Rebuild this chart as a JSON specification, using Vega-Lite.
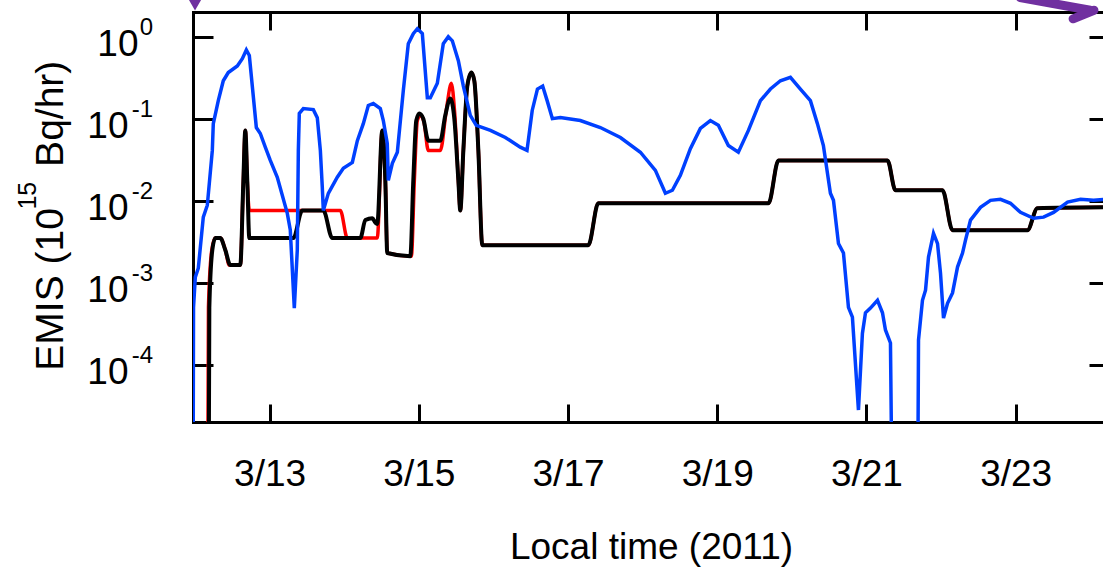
{
  "$schema": "https://vega.github.io/schema/vega-lite/v6.json",
  "width": 910,
  "height": 410,
  "autosize": "none",
  "padding": {"left": 193, "top": 12, "right": 0, "bottom": 148},
  "background": "white",
  "config": {
    "view": {"stroke": null},
    "font": "Liberation Sans",
    "axis": {
      "grid": false,
      "domainColor": "black",
      "domainWidth": 3,
      "domainCap": "square",
      "tickColor": "black",
      "tickWidth": 3,
      "labelColor": "black",
      "labelFont": "Liberation Sans",
      "titleFont": "Liberation Sans",
      "titleColor": "black",
      "titleFontWeight": "normal",
      "labelOverlap": false,
      "labelFlush": false
    }
  },
  "datasets": {
    "emis": [
      {"series": "blue", "day": 11.973, "emis": 1e-6},
      {"series": "blue", "day": 11.98, "emis": 5.0e-4},
      {"series": "blue", "day": 12.004, "emis": 1.17e-3},
      {"series": "blue", "day": 12.044, "emis": 1.5e-3},
      {"series": "blue", "day": 12.111, "emis": 6.3e-3},
      {"series": "blue", "day": 12.165, "emis": 8.8e-3},
      {"series": "blue", "day": 12.232, "emis": 0.041},
      {"series": "blue", "day": 12.245, "emis": 0.087},
      {"series": "blue", "day": 12.312, "emis": 0.166},
      {"series": "blue", "day": 12.379, "emis": 0.29},
      {"series": "blue", "day": 12.446, "emis": 0.365},
      {"series": "blue", "day": 12.567, "emis": 0.44},
      {"series": "blue", "day": 12.634, "emis": 0.54},
      {"series": "blue", "day": 12.688, "emis": 0.69},
      {"series": "blue", "day": 12.728, "emis": 0.59},
      {"series": "blue", "day": 12.822, "emis": 0.078},
      {"series": "blue", "day": 12.875, "emis": 0.066},
      {"series": "blue", "day": 12.942, "emis": 0.045},
      {"series": "blue", "day": 13.009, "emis": 0.031},
      {"series": "blue", "day": 13.103, "emis": 0.0193},
      {"series": "blue", "day": 13.237, "emis": 0.007},
      {"series": "blue", "day": 13.277, "emis": 0.0044},
      {"series": "blue", "day": 13.331, "emis": 4.9e-4},
      {"series": "blue", "day": 13.371, "emis": 0.0025},
      {"series": "blue", "day": 13.385, "emis": 0.041},
      {"series": "blue", "day": 13.398, "emis": 0.116},
      {"series": "blue", "day": 13.452, "emis": 0.133},
      {"series": "blue", "day": 13.586, "emis": 0.129},
      {"series": "blue", "day": 13.639, "emis": 0.103},
      {"series": "blue", "day": 13.68, "emis": 0.041},
      {"series": "blue", "day": 13.706, "emis": 0.0146},
      {"series": "blue", "day": 13.72, "emis": 0.0076},
      {"series": "blue", "day": 13.787, "emis": 0.0123},
      {"series": "blue", "day": 13.907, "emis": 0.0193},
      {"series": "blue", "day": 13.988, "emis": 0.0248},
      {"series": "blue", "day": 14.109, "emis": 0.0293},
      {"series": "blue", "day": 14.176, "emis": 0.054},
      {"series": "blue", "day": 14.256, "emis": 0.087},
      {"series": "blue", "day": 14.323, "emis": 0.145},
      {"series": "blue", "day": 14.39, "emis": 0.153},
      {"series": "blue", "day": 14.484, "emis": 0.133},
      {"series": "blue", "day": 14.524, "emis": 0.095},
      {"series": "blue", "day": 14.577, "emis": 0.05},
      {"series": "blue", "day": 14.591, "emis": 0.0177},
      {"series": "blue", "day": 14.645, "emis": 0.0285},
      {"series": "blue", "day": 14.712, "emis": 0.039},
      {"series": "blue", "day": 14.792, "emis": 0.22},
      {"series": "blue", "day": 14.859, "emis": 0.82},
      {"series": "blue", "day": 14.926, "emis": 1.09},
      {"series": "blue", "day": 14.98, "emis": 1.25},
      {"series": "blue", "day": 15.047, "emis": 1.09},
      {"series": "blue", "day": 15.114, "emis": 0.18},
      {"series": "blue", "day": 15.154, "emis": 0.18},
      {"series": "blue", "day": 15.248, "emis": 0.27},
      {"series": "blue", "day": 15.328, "emis": 0.82},
      {"series": "blue", "day": 15.395, "emis": 1.0},
      {"series": "blue", "day": 15.449, "emis": 0.89},
      {"series": "blue", "day": 15.53, "emis": 0.51},
      {"series": "blue", "day": 15.597, "emis": 0.25},
      {"series": "blue", "day": 15.69, "emis": 0.11},
      {"series": "blue", "day": 15.77, "emis": 0.083},
      {"series": "blue", "day": 15.96, "emis": 0.072},
      {"series": "blue", "day": 16.16, "emis": 0.059},
      {"series": "blue", "day": 16.36, "emis": 0.045},
      {"series": "blue", "day": 16.45, "emis": 0.041},
      {"series": "blue", "day": 16.52, "emis": 0.126},
      {"series": "blue", "day": 16.59, "emis": 0.23},
      {"series": "blue", "day": 16.66, "emis": 0.25},
      {"series": "blue", "day": 16.72, "emis": 0.166},
      {"series": "blue", "day": 16.79, "emis": 0.1},
      {"series": "blue", "day": 16.897, "emis": 0.103},
      {"series": "blue", "day": 17.165, "emis": 0.095},
      {"series": "blue", "day": 17.433, "emis": 0.078},
      {"series": "blue", "day": 17.702, "emis": 0.059},
      {"series": "blue", "day": 17.97, "emis": 0.039},
      {"series": "blue", "day": 18.171, "emis": 0.0234},
      {"series": "blue", "day": 18.305, "emis": 0.0123},
      {"series": "blue", "day": 18.399, "emis": 0.0134},
      {"series": "blue", "day": 18.506, "emis": 0.0204},
      {"series": "blue", "day": 18.64, "emis": 0.043},
      {"series": "blue", "day": 18.774, "emis": 0.076},
      {"series": "blue", "day": 18.908, "emis": 0.095},
      {"series": "blue", "day": 19.015, "emis": 0.083},
      {"series": "blue", "day": 19.149, "emis": 0.047},
      {"series": "blue", "day": 19.283, "emis": 0.039},
      {"series": "blue", "day": 19.418, "emis": 0.072},
      {"series": "blue", "day": 19.579, "emis": 0.166},
      {"series": "blue", "day": 19.713, "emis": 0.23},
      {"series": "blue", "day": 19.847, "emis": 0.29},
      {"series": "blue", "day": 19.981, "emis": 0.32},
      {"series": "blue", "day": 20.115, "emis": 0.23},
      {"series": "blue", "day": 20.249, "emis": 0.166},
      {"series": "blue", "day": 20.343, "emis": 0.087},
      {"series": "blue", "day": 20.423, "emis": 0.047},
      {"series": "blue", "day": 20.517, "emis": 0.0123},
      {"series": "blue", "day": 20.558, "emis": 0.0101},
      {"series": "blue", "day": 20.625, "emis": 0.003},
      {"series": "blue", "day": 20.692, "emis": 0.0023},
      {"series": "blue", "day": 20.759, "emis": 5.0e-4},
      {"series": "blue", "day": 20.812, "emis": 3.8e-4},
      {"series": "blue", "day": 20.893, "emis": 2.8e-5},
      {"series": "blue", "day": 20.946, "emis": 2.4e-4},
      {"series": "blue", "day": 20.987, "emis": 4.3e-4},
      {"series": "blue", "day": 21.054, "emis": 4.9e-4},
      {"series": "blue", "day": 21.148, "emis": 6.1e-4},
      {"series": "blue", "day": 21.215, "emis": 4.3e-4},
      {"series": "blue", "day": 21.255, "emis": 2.65e-4},
      {"series": "blue", "day": 21.322, "emis": 1.84e-4},
      {"series": "blue", "day": 21.36, "emis": 1e-7},
      {"series": "blue", "day": 21.68, "emis": 1e-7},
      {"series": "blue", "day": 21.698, "emis": 2.0e-4},
      {"series": "blue", "day": 21.751, "emis": 6.1e-4},
      {"series": "blue", "day": 21.792, "emis": 8.1e-4},
      {"series": "blue", "day": 21.832, "emis": 2.05e-3},
      {"series": "blue", "day": 21.899, "emis": 4.0e-3},
      {"series": "blue", "day": 21.953, "emis": 3.0e-3},
      {"series": "blue", "day": 21.993, "emis": 1.3e-3},
      {"series": "blue", "day": 22.033, "emis": 3.7e-4},
      {"series": "blue", "day": 22.087, "emis": 5.6e-4},
      {"series": "blue", "day": 22.154, "emis": 7.5e-4},
      {"series": "blue", "day": 22.221, "emis": 1.55e-3},
      {"series": "blue", "day": 22.288, "emis": 2.3e-3},
      {"series": "blue", "day": 22.328, "emis": 3.3e-3},
      {"series": "blue", "day": 22.395, "emis": 5.8e-3},
      {"series": "blue", "day": 22.529, "emis": 8.3e-3},
      {"series": "blue", "day": 22.663, "emis": 0.0101},
      {"series": "blue", "day": 22.797, "emis": 0.0104},
      {"series": "blue", "day": 22.931, "emis": 9.3e-3},
      {"series": "blue", "day": 23.065, "emis": 7.2e-3},
      {"series": "blue", "day": 23.24, "emis": 6.1e-3},
      {"series": "blue", "day": 23.374, "emis": 6.3e-3},
      {"series": "blue", "day": 23.508, "emis": 7.2e-3},
      {"series": "blue", "day": 23.696, "emis": 9.6e-3},
      {"series": "blue", "day": 23.87, "emis": 0.0104},
      {"series": "blue", "day": 24.044, "emis": 0.0101},
      {"series": "blue", "day": 24.22, "emis": 0.0104},

      {"series": "black", "day": 12.178, "emis": 1e-7},
      {"series": "black", "day": 12.192, "emis": 5.0e-4},
      {"series": "black", "day": 12.232, "emis": 0.0025},
      {"series": "black", "day": 12.272, "emis": 0.0035},
      {"series": "black", "day": 12.339, "emis": 0.0035},
      {"series": "black", "day": 12.406, "emis": 0.0025},
      {"series": "black", "day": 12.473, "emis": 0.00164},
      {"series": "black", "day": 12.607, "emis": 0.00164},
      {"series": "black", "day": 12.647, "emis": 0.0163},
      {"series": "black", "day": 12.674, "emis": 0.072},
      {"series": "black", "day": 12.701, "emis": 0.017},
      {"series": "black", "day": 12.728, "emis": 0.0035},
      {"series": "black", "day": 13.318, "emis": 0.0035},
      {"series": "black", "day": 13.438, "emis": 0.0076},
      {"series": "black", "day": 13.72, "emis": 0.0076},
      {"series": "black", "day": 13.84, "emis": 0.0035},
      {"series": "black", "day": 14.216, "emis": 0.0035},
      {"series": "black", "day": 14.283, "emis": 0.0058},
      {"series": "black", "day": 14.377, "emis": 0.0061},
      {"series": "black", "day": 14.417, "emis": 0.0054},
      {"series": "black", "day": 14.443, "emis": 0.0052},
      {"series": "black", "day": 14.51, "emis": 0.072},
      {"series": "black", "day": 14.551, "emis": 0.0177},
      {"series": "black", "day": 14.577, "emis": 0.0023},
      {"series": "black", "day": 14.886, "emis": 0.0021},
      {"series": "black", "day": 14.926, "emis": 0.0177},
      {"series": "black", "day": 14.966, "emis": 0.095},
      {"series": "black", "day": 15.007, "emis": 0.116},
      {"series": "black", "day": 15.06, "emis": 0.1},
      {"series": "black", "day": 15.127, "emis": 0.054},
      {"series": "black", "day": 15.288, "emis": 0.054},
      {"series": "black", "day": 15.355, "emis": 0.11},
      {"series": "black", "day": 15.422, "emis": 0.176},
      {"series": "black", "day": 15.476, "emis": 0.1},
      {"series": "black", "day": 15.53, "emis": 0.0177},
      {"series": "black", "day": 15.556, "emis": 0.0076},
      {"series": "black", "day": 15.597, "emis": 0.041},
      {"series": "black", "day": 15.65, "emis": 0.25},
      {"series": "black", "day": 15.704, "emis": 0.365},
      {"series": "black", "day": 15.744, "emis": 0.29},
      {"series": "black", "day": 15.798, "emis": 0.041},
      {"series": "black", "day": 15.851, "emis": 0.00287},
      {"series": "black", "day": 17.272, "emis": 0.00287},
      {"series": "black", "day": 17.406, "emis": 0.0093},
      {"series": "black", "day": 19.687, "emis": 0.0093},
      {"series": "black", "day": 19.821, "emis": 0.031},
      {"series": "black", "day": 21.282, "emis": 0.031},
      {"series": "black", "day": 21.389, "emis": 0.0134},
      {"series": "black", "day": 22.019, "emis": 0.0134},
      {"series": "black", "day": 22.154, "emis": 0.00437},
      {"series": "black", "day": 23.158, "emis": 0.00437},
      {"series": "black", "day": 23.292, "emis": 0.0081},
      {"series": "black", "day": 24.22, "emis": 0.0083},

      {"series": "red", "day": 12.165, "emis": 1e-7},
      {"series": "red", "day": 12.18, "emis": 5.0e-4},
      {"series": "red", "day": 12.225, "emis": 0.0025},
      {"series": "red", "day": 12.272, "emis": 0.0035},
      {"series": "red", "day": 12.339, "emis": 0.0035},
      {"series": "red", "day": 12.406, "emis": 0.0025},
      {"series": "red", "day": 12.46, "emis": 0.00164},
      {"series": "red", "day": 12.607, "emis": 0.00164},
      {"series": "red", "day": 12.647, "emis": 0.0163},
      {"series": "red", "day": 12.674, "emis": 0.072},
      {"series": "red", "day": 12.701, "emis": 0.017},
      {"series": "red", "day": 12.728, "emis": 0.0076},
      {"series": "red", "day": 13.948, "emis": 0.0076},
      {"series": "red", "day": 14.042, "emis": 0.0035},
      {"series": "red", "day": 14.443, "emis": 0.0035},
      {"series": "red", "day": 14.51, "emis": 0.072},
      {"series": "red", "day": 14.551, "emis": 0.0177},
      {"series": "red", "day": 14.577, "emis": 0.0023},
      {"series": "red", "day": 14.9, "emis": 0.0021},
      {"series": "red", "day": 14.94, "emis": 0.0177},
      {"series": "red", "day": 14.98, "emis": 0.095},
      {"series": "red", "day": 15.02, "emis": 0.11},
      {"series": "red", "day": 15.07, "emis": 0.09},
      {"series": "red", "day": 15.127, "emis": 0.041},
      {"series": "red", "day": 15.288, "emis": 0.041},
      {"series": "red", "day": 15.37, "emis": 0.13},
      {"series": "red", "day": 15.436, "emis": 0.27},
      {"series": "red", "day": 15.48, "emis": 0.12},
      {"series": "red", "day": 15.53, "emis": 0.0177},
      {"series": "red", "day": 15.556, "emis": 0.0076},
      {"series": "red", "day": 15.597, "emis": 0.041},
      {"series": "red", "day": 15.65, "emis": 0.25},
      {"series": "red", "day": 15.704, "emis": 0.365},
      {"series": "red", "day": 15.744, "emis": 0.29},
      {"series": "red", "day": 15.798, "emis": 0.041},
      {"series": "red", "day": 15.851, "emis": 0.00287},
      {"series": "red", "day": 17.272, "emis": 0.00287},
      {"series": "red", "day": 17.406, "emis": 0.0093},
      {"series": "red", "day": 19.687, "emis": 0.0093},
      {"series": "red", "day": 19.821, "emis": 0.031},
      {"series": "red", "day": 21.282, "emis": 0.031},
      {"series": "red", "day": 21.389, "emis": 0.0134},
      {"series": "red", "day": 22.019, "emis": 0.0134},
      {"series": "red", "day": 22.154, "emis": 0.00437},
      {"series": "red", "day": 23.158, "emis": 0.00437},
      {"series": "red", "day": 23.292, "emis": 0.0081},
      {"series": "red", "day": 24.22, "emis": 0.0083}
    ],
    "decades": [
      {"v": 1, "e": "0"},
      {"v": 0.1, "e": "-1"},
      {"v": 0.01, "e": "-2"},
      {"v": 0.001, "e": "-3"},
      {"v": 0.0001, "e": "-4"}
    ]
  },
  "layer": [
    {
      "data": {"name": "emis"},
      "transform": [{"filter": "datum.series === 'red'"}],
      "mark": {"type": "line", "color": "#ff0000", "strokeWidth": 3.5, "interpolate": "monotone", "clip": true},
      "encoding": {
        "x": {
          "field": "day", "type": "quantitative",
          "scale": {"domain": [11.973, 24.171], "nice": false, "zero": false},
          "axis": {
            "orient": "bottom",
            "values": [13, 15, 17, 19, 21, 23],
            "labelExpr": "'3/' + datum.value",
            "labelFontSize": 37,
            "labelBaseline": "alphabetic",
            "tickSize": -18,
            "labelPadding": 81,
            "title": "Local time (2011)",
            "titleFontSize": 37,
            "titleBaseline": "alphabetic",
            "titleAlign": "center",
            "titleX": 458,
            "titleY": 136
          }
        },
        "y": {
          "field": "emis", "type": "quantitative",
          "scale": {"type": "log", "domain": [2e-5, 2], "nice": false},
          "axis": {
            "orient": "left",
            "values": [0.0001, 0.001, 0.01, 0.1, 1],
            "labelExpr": "'10'",
            "labelFontSize": 37,
            "labelBaseline": "alphabetic",
            "labelAlign": "right",
            "labelOffset": 19,
            "labelPadding": {"condition": {"test": "datum.value >= 0.5", "value": 75}, "value": 85},
            "tickSize": -20,
            "title": null
          }
        }
      }
    },
    {
      "data": {"name": "emis"},
      "transform": [{"filter": "datum.series === 'black'"}],
      "mark": {"type": "line", "color": "#000000", "strokeWidth": 4, "interpolate": "monotone", "clip": true},
      "encoding": {
        "x": {
          "field": "day", "type": "quantitative",
          "scale": {"domain": [11.973, 24.171], "nice": false, "zero": false},
          "axis": {"orient": "top", "values": [13, 15, 17, 19, 21, 23], "labels": false, "tickSize": -18, "title": null}
        },
        "y": {
          "field": "emis", "type": "quantitative",
          "scale": {"type": "log", "domain": [2e-5, 2], "nice": false},
          "axis": {"orient": "right", "values": [0.0001, 0.001, 0.01, 0.1, 1], "labels": false, "tickSize": -14, "domain": false, "title": null}
        }
      }
    },
    {
      "data": {"name": "emis"},
      "transform": [{"filter": "datum.series === 'blue'"}],
      "mark": {"type": "line", "color": "#0040ff", "strokeWidth": 3.5, "clip": true},
      "encoding": {
        "x": {"field": "day", "type": "quantitative", "scale": {"domain": [11.973, 24.171], "nice": false, "zero": false}, "axis": null},
        "y": {"field": "emis", "type": "quantitative", "scale": {"type": "log", "domain": [2e-5, 2], "nice": false}, "axis": null}
      }
    },
    {
      "data": {"name": "decades"},
      "mark": {"type": "text", "align": "right", "baseline": "alphabetic", "dx": -40, "dy": -2, "fontSize": 24, "color": "black"},
      "encoding": {
        "x": {"datum": 11.973, "type": "quantitative", "scale": {"domain": [11.973, 24.171], "nice": false, "zero": false}, "axis": null},
        "y": {"field": "v", "type": "quantitative", "scale": {"type": "log", "domain": [2e-5, 2], "nice": false}, "axis": null},
        "text": {"field": "e"}
      }
    },
    {
      "data": {"values": [{}]},
      "mark": {"type": "text", "text": "EMIS (10", "angle": 270, "align": "left", "baseline": "alphabetic", "fontSize": 39, "dx": -6, "dy": -130, "color": "black"},
      "encoding": {
        "x": {"datum": 11.973, "type": "quantitative", "scale": {"domain": [11.973, 24.171], "nice": false, "zero": false}, "axis": null},
        "y": {"datum": 0.0001, "type": "quantitative", "scale": {"type": "log", "domain": [2e-5, 2], "nice": false}, "axis": null}
      }
    },
    {
      "data": {"values": [{}]},
      "mark": {"type": "text", "text": "15", "angle": 270, "align": "center", "baseline": "alphabetic", "fontSize": 25, "dx": 5, "dy": -157, "color": "black"},
      "encoding": {
        "x": {"datum": 11.973, "type": "quantitative", "scale": {"domain": [11.973, 24.171], "nice": false, "zero": false}, "axis": null},
        "y": {"datum": 0.01, "type": "quantitative", "scale": {"type": "log", "domain": [2e-5, 2], "nice": false}, "axis": null}
      }
    },
    {
      "data": {"values": [{}]},
      "mark": {"type": "text", "text": " Bq/hr)", "angle": 270, "align": "right", "baseline": "alphabetic", "fontSize": 39, "dx": -24, "dy": -130, "color": "black"},
      "encoding": {
        "x": {"datum": 11.973, "type": "quantitative", "scale": {"domain": [11.973, 24.171], "nice": false, "zero": false}, "axis": null},
        "y": {"datum": 1, "type": "quantitative", "scale": {"type": "log", "domain": [2e-5, 2], "nice": false}, "axis": null}
      }
    },
    {
      "data": {"values": [{}]},
      "mark": {"type": "point", "shape": "triangle-down", "filled": true, "size": 220, "color": "#7030a0", "opacity": 1},
      "encoding": {
        "x": {"datum": 12.0, "type": "quantitative", "scale": {"domain": [11.973, 24.171], "nice": false, "zero": false}, "axis": null},
        "y": {"datum": 2.5, "type": "quantitative", "scale": {"type": "log", "domain": [2e-5, 2], "nice": false}, "axis": null}
      }
    },
    {
      "data": {"values": [{}]},
      "mark": {"type": "rule", "color": "#7030a0", "strokeWidth": 9, "strokeCap": "round"},
      "encoding": {
        "x": {"datum": 23.06, "type": "quantitative", "scale": {"domain": [11.973, 24.171], "nice": false, "zero": false}, "axis": null},
        "x2": {"datum": 24.0},
        "y": {"datum": 3.0, "type": "quantitative", "scale": {"type": "log", "domain": [2e-5, 2], "nice": false}, "axis": null},
        "y2": {"datum": 2.1}
      }
    },
    {
      "data": {"values": [{}]},
      "mark": {"type": "rule", "color": "#7030a0", "strokeWidth": 9, "strokeCap": "round"},
      "encoding": {
        "x": {"datum": 23.77, "type": "quantitative", "scale": {"domain": [11.973, 24.171], "nice": false, "zero": false}, "axis": null},
        "x2": {"datum": 24.05},
        "y": {"datum": 1.65, "type": "quantitative", "scale": {"type": "log", "domain": [2e-5, 2], "nice": false}, "axis": null},
        "y2": {"datum": 2.1}
      }
    }
  ],
  "resolve": {"axis": {"x": "independent", "y": "independent"}}
}
